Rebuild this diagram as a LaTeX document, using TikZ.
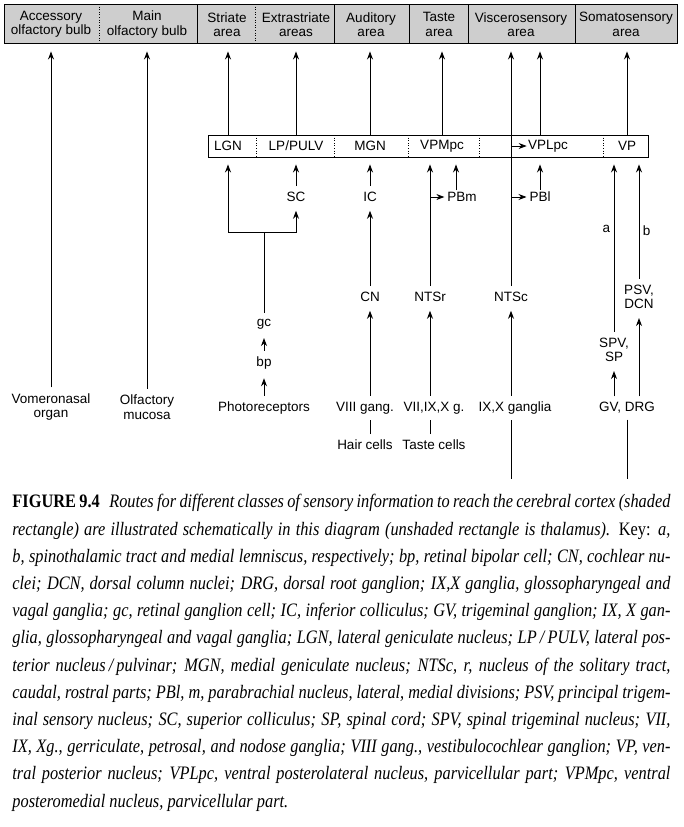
\documentclass[tikz,border=0pt]{standalone}
\usepackage{fontspec}
\setmainfont{Liberation Serif}
\setsansfont{Liberation Sans}
\newfontfamily\capfont[FakeStretch=0.86]{Liberation Serif}
\usetikzlibrary{arrows.meta}
\definecolor{cortex}{RGB}{206,206,206}

\begin{document}
\begin{tikzpicture}[x=1pt, y=-1pt, line width=0.9pt,
    font=\sffamily\fontsize{13.5}{14.5}\selectfont,
    lbl/.style={inner sep=2pt, outer sep=4pt, align=center},
    ctx/.style={inner sep=0pt, minimum height=39pt, align=center},
    thal/.style={inner sep=0pt, minimum height=22pt},
    divider/.style={line width=0.6pt, dotted},
    arr/.style={-{Stealth[length=8pt, width=6pt]}, shorten >=3pt},
    intoarea/.style={arr, shorten >=7pt}]
    \useasboundingbox (0,0) rectangle (683,827);

    \draw[fill=cortex] (4,4) rectangle (677,43);
    \foreach \x in {99,255}
        \draw[divider] (\x,4) -- (\x,43);
    \foreach \x in {197,334,409,468,575}
        \draw (\x,4) -- (\x,43);
    \node[ctx] (acc) at (51,24.5) {Accessory\\olfactory bulb};
    \node[ctx] (main) at (147,24.5) {Main\\olfactory bulb};
    \node[ctx] (str) at (227,24.5) {Striate\\area};
    \node[ctx] (ext) at (296,24.5) {Extrastriate\\areas};
    \node[ctx] (aud) at (371,24.5) {Auditory\\area};
    \node[ctx] (tst) at (439,24.5) {Taste\\area};
    \node[ctx] (vis) at (521,24.5) {Viscerosensory\\area};
    \node[ctx] (som) at (626,24.5) {Somatosensory\\area};

    \draw (208,135) rectangle (648,157);
    \foreach \x in {256,334,408,479,603}
        \draw[divider] (\x,135) -- (\x,157);
    \node[thal] (lgn) at (228,146) {LGN};
    \node[thal] (lp) at (296,146) {LP/PULV};
    \node[thal] (mgn) at (370,146) {MGN};
    \node[thal] (vpm) at (442,146) {VPMpc};
    \node[thal] (vpl) at (548,146) {VPLpc};
    \node[thal] (vp) at (627,146) {VP};

    \node[lbl] (sc) at (296,197) {SC};
    \node[lbl] (ic) at (370,197) {IC};
    \node[lbl, outer sep=0pt] (pbm) at (462,197) {PBm};
    \node[lbl, outer sep=0pt] (pbl) at (540,197) {PBl};
    \node[lbl] (cn) at (370,297) {CN};
    \node[lbl] (ntsr) at (430,297) {NTSr};
    \node[lbl] (ntsc) at (511,297) {NTSc};
    \node[lbl] (psv) at (639,297) {PSV,\\DCN};
    \node[lbl] (spv) at (614,350) {SPV,\\SP};
    \node[lbl] (gc) at (264,324) {gc};
    \node[lbl] (bp) at (264,363) {bp};

    \node[lbl] (vom) at (51,407) {Vomeronasal\\organ};
    \node[lbl] (olf) at (147,407) {Olfactory\\mucosa};
    \node[lbl] (pho) at (264,408) {Photoreceptors};
    \node[lbl] (viii) at (365,408) {VIII gang.};
    \node[lbl] (vii) at (434,408) {VII,IX,X g.};
    \node[lbl] (ixx) at (515,408) {IX,X ganglia};
    \node[lbl] (gv) at (627,408) {GV, DRG};
    \node[lbl] (hair) at (365,445) {Hair cells};
    \node[lbl] (tc) at (434,445) {Taste cells};
    \coordinate (fork) at (264,232);
    \coordinate (vagus) at (511,479);
    \coordinate (spinal) at (627,479);

    \path[intoarea] (vom) edge (vom |- acc.south)
        (olf) edge (olf |- main.south)
        (lgn) edge (lgn |- str.south)
        (lp) edge (lp |- ext.south)
        (mgn) edge (mgn |- aud.south)
        (vpm) edge (vpm |- tst.south)
        (ntsc) edge (ntsc |- vis.south)
        (pbl |- vpl.north) edge (pbl |- vis.south)
        (vp) edge (vp |- som.south);

    \path[arr] (pho) edge (bp)
        (bp) edge (gc)
        (cn |- viii.north) edge (cn)
        (ntsr |- vii.north) edge (ntsr)
        (ntsc |- ixx.north) edge (ntsc)
        (spv |- gv.north) edge (spv)
        (psv |- gv.north) edge (psv)
        (cn) edge (ic);
    \draw (gc) -- (fork);
    \draw[arr, shorten >=7pt] (fork) -| (lgn);
    \draw[arr] (fork) -| (sc);

    \path[arr, shorten >=7pt] (sc) edge (lp)
        (ic) edge (mgn)
        (ntsr) edge (ntsr |- vpm.south)
        ([xshift=-6pt]pbm.north) edge ([xshift=-6pt]pbm.north |- vpm.south)
        (pbl) edge (pbl |- vpl.south)
        (spv) edge node[pos=0.59, left] {a} (spv |- vp.south)
        (psv) edge node[pos=0.4, right] {b} (psv |- vp.south);

    \path[arr, shorten >=1pt] (ntsr |- pbm) edge (pbm)
        (ntsc |- pbl) edge (pbl)
        (ntsc |- vpl) edge (vpl);

    \path[-] (cn |- hair.north) edge (cn |- viii.south)
        (ntsr |- tc.north) edge (ntsr |- vii.south)
        (ntsc |- ixx.south) edge (vagus)
        (gv) edge (spinal);

    \node[anchor=north west, inner sep=0pt, text width=658pt, align=justify,
        font=\capfont\fontsize{19}{27.2}\selectfont\itshape] (cap) at (12,494) {\hyphenpenalty=10000
        {\upshape\bfseries FIGURE 9.4}\enskip Routes for different classes of sensory information to reach the cerebral cortex (shaded\linebreak
        rectangle) are illustrated schematically in this diagram (unshaded rectangle is thalamus). {\upshape Key:} a,\linebreak
        b, spinothalamic tract and medial lemniscus, respectively; bp, retinal bipolar cell; CN, cochlear nu-\linebreak
        clei; DCN, dorsal column nuclei; DRG, dorsal root ganglion; IX,X ganglia, glossopharyngeal and\linebreak
        vagal ganglia; gc, retinal ganglion cell; IC, inferior colliculus; GV, trigeminal ganglion; IX, X gan-\linebreak
        glia, glossopharyngeal and vagal ganglia; LGN, lateral geniculate nucleus; LP\,/\,PULV, lateral pos-\linebreak
        terior nucleus\,/\,pulvinar; MGN, medial geniculate nucleus; NTSc, r, nucleus of the solitary tract,\linebreak
        caudal, rostral parts; PBl, m, parabrachial nucleus, lateral, medial divisions; PSV, principal trigem-\linebreak
        inal sensory nucleus; SC, superior colliculus; SP, spinal cord; SPV, spinal trigeminal nucleus; VII,\linebreak
        IX, Xg., gerriculate, petrosal, and nodose ganglia; VIII gang., vestibulocochlear ganglion; VP, ven-\linebreak
        tral posterior nucleus; VPLpc, ventral posterolateral nucleus, parvicellular part; VPMpc, ventral\linebreak
        posteromedial nucleus, parvicellular part.};
\end{tikzpicture}
\end{document}
